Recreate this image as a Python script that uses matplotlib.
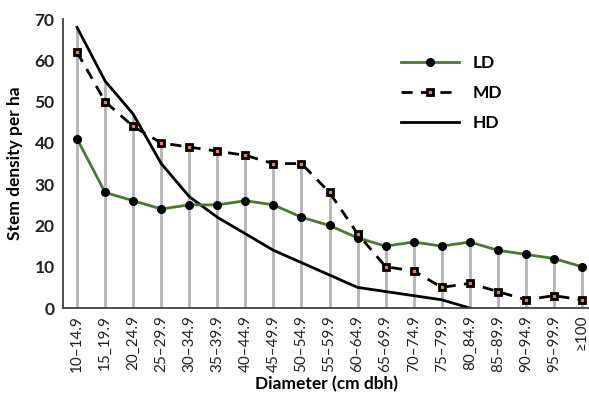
import matplotlib
matplotlib.use("Agg")
import matplotlib.pyplot as plt
import numpy as np

# diameter classes as printed on the original axis
classes = ["10–14.9", "15_19.9", "20_24.9", "25–29.9", "30–34.9", "35–39.9",
           "40–44.9", "45–49.9", "50–54.9", "55–59.9", "60–64.9", "65–69.9",
           "70–74.9", "75–79.9", "80_84.9", "85–89.9", "90–94.9", "95–99.9",
           "≥100"]

ld = [41, 28, 26, 24, 25, 25, 26, 25, 22, 20, 17, 15, 16, 15, 16, 14, 13, 12, 10]
md = [62, 50, 44, 40, 39, 38, 37, 35, 35, 28, 18, 10, 9, 5, 6, 4, 2, 3, 2]
hd = [68, 55, 47, 35, 27, 22, 18, 14, 11, 8, 5, 4, 3, 2, 0]

yticks = [0, 10, 20, 30, 40, 50, 60, 70]


def main():
  plt.rcParams['font.family'] = ['Lato', 'DejaVu Sans']
  fig = plt.figure(figsize=(5.89, 3.98), dpi=100)
  ax = fig.add_axes([0.107, 0.226, 0.893, 0.726])

  x = np.arange(len(classes))
  hd_full = hd + [0] * (len(classes) - len(hd))
  tops = np.maximum(np.maximum(ld, md), hd_full)
  ax.vlines(x, 0, tops, color='#b4b4b4', lw=2, zorder=1)

  ax.plot(x, ld, color='#4a7a2e', lw=2, marker='o', markersize=5.5,
          markerfacecolor='black', markeredgecolor='black', label='LD', zorder=3)
  ax.plot(x, md, color='black', lw=2, ls=(0, (4, 3)), marker='s', markersize=5,
          markerfacecolor='#e08a2a', markeredgecolor='black', markeredgewidth=2,
          label='MD', zorder=3)
  ax.plot(np.arange(len(hd)), hd, color='black', lw=2, label='HD', zorder=2)

  ax.set_xlim(-0.5, 18.25)
  ax.set_ylim(0, 70)
  ax.set_xticks(x)
  ax.set_xticklabels(classes, rotation=90, fontsize=11, color='#202020')
  ax.set_yticks(yticks)
  ax.set_yticklabels([str(t) for t in yticks], fontsize=12.5, fontweight='bold',
                     color='#202020')
  ax.tick_params(axis='x', length=0, pad=5)
  ax.tick_params(axis='y', length=0, pad=6)

  for side in ['top', 'right']:
    ax.spines[side].set_visible(False)
  for side in ['left', 'bottom']:
    ax.spines[side].set_color('#404040')
    ax.spines[side].set_linewidth(1.3)

  ax.set_ylabel("Stem density per ha", fontsize=12.5, fontweight='bold', labelpad=8)
  ax.set_xlabel("Diameter (cm dbh)", fontsize=12.5, fontweight='bold', labelpad=3)

  leg = ax.legend(loc='upper left', bbox_to_anchor=(0.655, 0.9),
                  bbox_transform=fig.transFigure, frameon=False,
                  handlelength=3.3, labelspacing=0.8, fontsize=12.5)
  for t in leg.get_texts():
    t.set_fontweight('bold')

  plt.savefig("out.png", dpi=100)


if __name__ == "__main__":
  main()
